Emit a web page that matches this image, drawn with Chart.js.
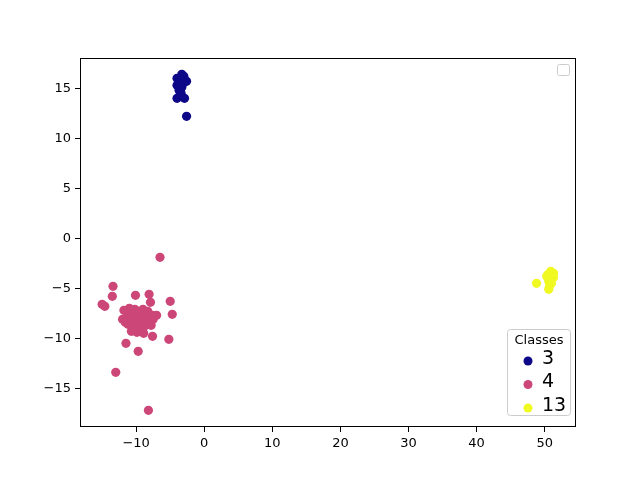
<!DOCTYPE html>
<html>
<head>
<meta charset="utf-8">
<script src="https://cdn.jsdelivr.net/npm/chart.js@4.4.1/dist/chart.umd.min.js"></script>
<style>
  html, body { margin: 0; padding: 0; background: #fff; }
  #wrap { width: 640px; height: 480px; }
</style>
</head>
<body>
<div id="wrap"><canvas id="scatter" width="640" height="480"></canvas></div>
<script>
// class labels and colours (plasma colormap)
const classNames = ["3", "4", "13"];
const classColors = ["#0d0887", "#cc4778", "#f0f921"];

// class 3 points
const class3X = [-4.0, -3.3, -3.0, -2.6, -3.7, -4.0, -3.5, -3.1, -3.7, -3.4, -3.6, -4.0, -2.9, -3.3, -2.6];
const class3Y = [16.0, 16.4, 16.2, 15.7, 15.6, 15.3, 15.9, 15.5, 14.8, 14.5, 14.2, 14.0, 14.0, 15.1, 12.2];

// class 4 points
const class4X = [-6.5, -13.4, -13.5, -15.0, -14.6, -10.1, -8.1, -7.9, -5.0, -4.7, -5.2, -7.6, -11.5, -9.7, -13.0, -8.2, -7.0,
  -11.8, -11.5, -11.2, -10.8, -10.5, -10.3, -10.0, -9.8, -9.6, -9.4, -9.2, -9.0, -8.8, -8.6, -8.4, -8.1,
  -7.8, -7.6, -10.7, -9.9, -11.0, -8.9, -10.2, -11.6, -9.3, -10.4, -8.3, -9.7, -10.9, -8.0, -12.0, -7.5];
const class4Y = [-1.9, -4.8, -5.8, -6.6, -6.8, -5.7, -5.6, -6.4, -6.3, -7.6, -10.1, -9.8, -10.5, -11.3, -13.4, -17.2, -7.7,
  -7.2, -8.0, -8.6, -7.5, -8.3, -9.0, -7.8, -8.6, -7.3, -9.2, -8.0, -7.1, -8.8, -7.6, -8.3, -7.9,
  -8.7, -7.7, -9.3, -9.4, -7.0, -9.5, -7.1, -8.4, -8.5, -7.9, -7.3, -8.2, -8.1, -8.4, -8.1, -8.1];

// class 13 points
const class13X = [48.8, 50.9, 51.3, 50.5, 50.3, 51.3, 50.9, 50.6, 51.0, 50.7, 50.6];
const class13Y = [-4.5, -3.3, -3.5, -3.6, -3.8, -3.9, -4.0, -4.3, -4.5, -4.8, -5.1];

// tick values
const xTicks = [-10, 0, 10, 20, 30, 40, 50];
const yTicks = [-15, -10, -5, 0, 5, 10, 15];

const toPoints = (xs, ys) => xs.map((x, i) => ({ x: x, y: ys[i] }));
const seriesX = [class3X, class4X, class13X];
const seriesY = [class3Y, class4Y, class13Y];

const FONT = "'DejaVu Sans', sans-serif";
const minus = (v) => String(v).replace("-", "\u2212");

function roundRect(ctx, x, y, w, h, r) {
  ctx.beginPath();
  ctx.moveTo(x + r, y);
  ctx.lineTo(x + w - r, y);
  ctx.quadraticCurveTo(x + w, y, x + w, y + r);
  ctx.lineTo(x + w, y + h - r);
  ctx.quadraticCurveTo(x + w, y + h, x + w - r, y + h);
  ctx.lineTo(x + r, y + h);
  ctx.quadraticCurveTo(x, y + h, x, y + h - r);
  ctx.lineTo(x, y + r);
  ctx.quadraticCurveTo(x, y, x + r, y);
  ctx.closePath();
}

// frame + the two legends (empty one top right, "Classes" bottom right)
const extras = {
  id: "extras",
  afterDraw(chart) {
    const ctx = chart.ctx;
    const a = chart.chartArea;
    ctx.save();
    ctx.strokeStyle = "#000";
    ctx.lineWidth = 1;
    ctx.strokeRect(Math.round(a.left) + 0.5, Math.round(a.top) + 0.5,
      Math.round(a.right - a.left) - 1, Math.round(a.bottom - a.top) - 1);

    // empty legend
    roundRect(ctx, 557.5, 64.5, 12, 11, 2);
    ctx.fillStyle = "rgba(255,255,255,0.8)";
    ctx.fill();
    ctx.strokeStyle = "#cccccc";
    ctx.stroke();

    // classes legend
    roundRect(ctx, 507.5, 329.5, 63, 86, 3);
    ctx.fillStyle = "rgba(255,255,255,0.8)";
    ctx.fill();
    ctx.strokeStyle = "#cccccc";
    ctx.stroke();

    ctx.fillStyle = "#000";
    ctx.font = "13px " + FONT;
    ctx.textAlign = "center";
    ctx.textBaseline = "middle";
    ctx.fillText("Classes", 539, 341);

    ctx.font = "19px " + FONT;
    ctx.textAlign = "left";
    classNames.forEach((name, i) => {
      const y = 359 + i * 23.5;
      ctx.beginPath();
      ctx.arc(528, y + 2, 4.5, 0, Math.PI * 2);
      ctx.fillStyle = classColors[i];
      ctx.fill();
      ctx.fillStyle = "#000";
      ctx.fillText(name, 542, y);
    });
    ctx.restore();
  }
};

new Chart(document.getElementById("scatter"), {
  type: "scatter",
  data: {
    datasets: classNames.map((name, i) => ({
      label: name,
      data: toPoints(seriesX[i], seriesY[i]),
      backgroundColor: classColors[i],
      borderWidth: 0,
      pointRadius: 4.6,
      pointHoverRadius: 4.6
    }))
  },
  options: {
    responsive: false,
    animation: false,
    layout: { padding: { left: 0, right: 64, top: 58, bottom: 0 } },
    plugins: { legend: { display: false }, tooltip: { enabled: false } },
    scales: {
      x: {
        type: "linear",
        min: -18.25,
        max: 54.6,
        afterFit: (s) => { s.height = 53; },
        afterBuildTicks: (s) => { s.ticks = xTicks.map((v) => ({ value: v })); },
        border: { display: false },
        grid: { drawOnChartArea: false, drawTicks: true, tickLength: 5, color: "#000" },
        ticks: { color: "#000", font: { family: FONT, size: 13 }, padding: 4, maxRotation: 0, callback: minus }
      },
      y: {
        type: "linear",
        min: -18.87,
        max: 18.03,
        afterFit: (s) => { s.width = 80; },
        afterBuildTicks: (s) => { s.ticks = yTicks.map((v) => ({ value: v })); },
        border: { display: false },
        grid: { drawOnChartArea: false, drawTicks: true, tickLength: 5, color: "#000" },
        ticks: { color: "#000", font: { family: FONT, size: 13 }, padding: 4, callback: minus }
      }
    }
  },
  plugins: [extras]
});
</script>
</body>
</html>
